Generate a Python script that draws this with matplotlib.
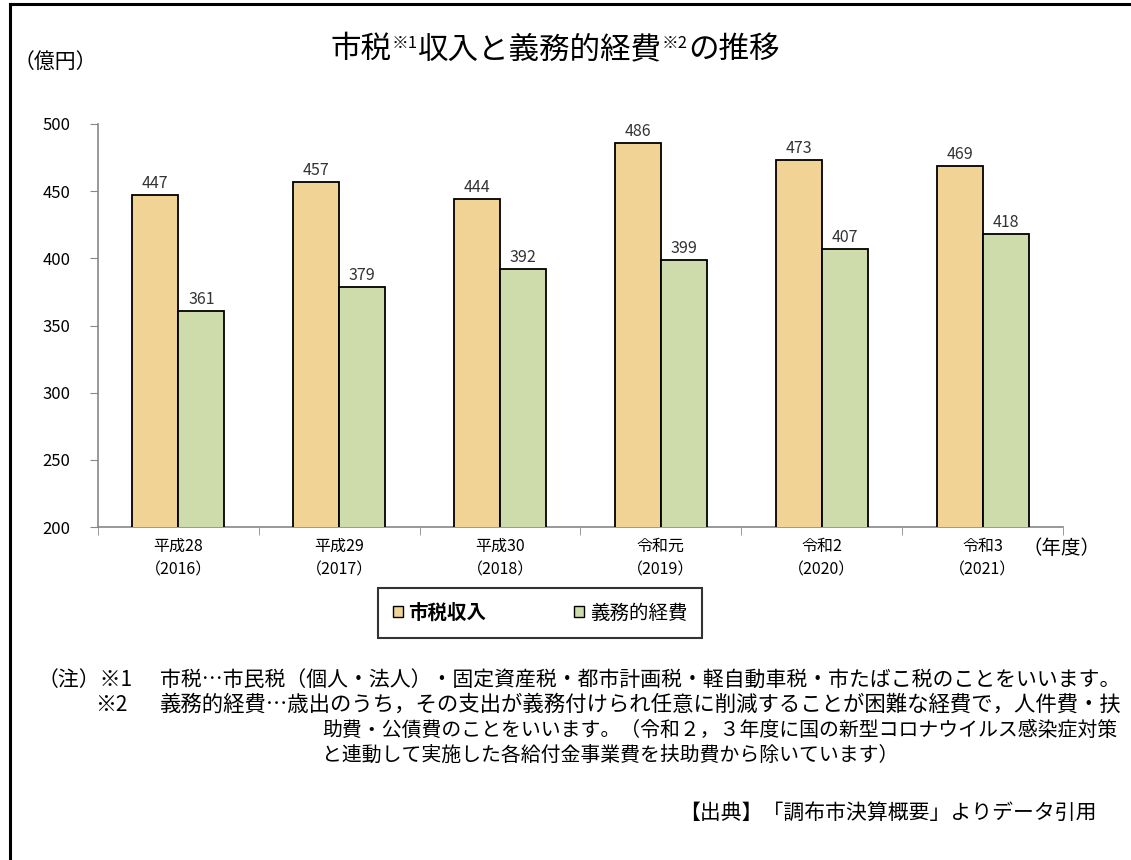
import matplotlib
matplotlib.use('Agg')
import matplotlib.pyplot as plt
from matplotlib.lines import Line2D
from matplotlib.patches import Patch
import numpy as np

plt.rcParams['font.family'] = ['Noto Sans CJK JP', 'DejaVu Sans']

# data
years = ['平成28\n（2016）', '平成29\n（2017）', '平成30\n（2018）',
         '令和元\n（2019）', '令和2\n（2020）', '令和3\n（2021）']
tax_income = [447, 457, 444, 486, 473, 469]
mandatory_cost = [361, 379, 392, 399, 407, 418]
series_names = ['市税収入', '義務的経費']
yticks = [200, 250, 300, 350, 400, 450, 500]

c_tax = '#F2D396'
c_cost = '#CDDCAA'

fig = plt.figure(figsize=(11.31, 8.6), dpi=100)
ax = fig.add_axes([98/1131, 1-527/860, (1063-98)/1131, (527-124)/860])

x = np.arange(len(years))
w = 0.286
b1 = ax.bar(x - w/2, tax_income, w, color=c_tax, edgecolor='black', linewidth=1.3, zorder=3)
b2 = ax.bar(x + w/2, mandatory_cost, w, color=c_cost, edgecolor='black', linewidth=1.3, zorder=3)
for bars in (b1, b2):
    ax.bar_label(bars, padding=2, fontsize=11.5, color='#333333')

ax.set_ylim(200, 500)
ax.set_xlim(-0.5, len(years) - 0.5)
ax.set_yticks(yticks)
ax.set_yticklabels([str(v) for v in yticks], fontsize=12)
ax.set_xticks(x)
ax.set_xticklabels(years, fontsize=11.5, linespacing=1.5)
ax.set_xticks(np.arange(-0.5, len(years)), minor=True)
ax.tick_params(axis='x', which='major', length=0, pad=8)
ax.tick_params(axis='x', which='minor', length=6, color='#888888')
ax.tick_params(axis='y', length=6, color='#888888', pad=14)
for s in ('top', 'right'):
    ax.spines[s].set_visible(False)
for s in ('left', 'bottom'):
    ax.spines[s].set_color('#888888')
    ax.spines[s].set_linewidth(1.2)

# frame lines on left and top
fig.add_artist(Line2D([10/1131, 10/1131], [0, 1-4/860], transform=fig.transFigure, color='black', lw=2.2))
fig.add_artist(Line2D([10/1131, 1], [1-4/860, 1-4/860], transform=fig.transFigure, color='black', lw=2.2))

renderer = fig.canvas.get_renderer()

# title with superscripts, assembled piece by piece
pieces = [('市税', 22, 0), ('※1', 12, 10), ('収入と義務的経費', 22, 0), ('※2', 12, 10), ('の推移', 22, 0)]
texts = []
for s, fs, dy in pieces:
    t = fig.text(0, 0, s, fontsize=fs, va='baseline', ha='left')
    texts.append((t, dy))
widths = [t.get_window_extent(renderer).width for t, _ in texts]
xpos = 555 - sum(widths)/2
base = 860 - 58
for (t, dy), wd in zip(texts, widths):
    t.set_position((xpos/1131, (base + dy)/860))
    xpos += wd

fig.text(14/1131, 1-62/860, '（億円）', fontsize=15, va='center', ha='left')
fig.text(1100/1131, 1-548/860, '（年度）', fontsize=14, va='center', ha='right')

leg = fig.legend([Patch(facecolor=c_tax, edgecolor='black'), Patch(facecolor=c_cost, edgecolor='black')],
                 series_names, loc='center', bbox_to_anchor=(540/1131, 1-613/860), ncol=2,
                 fontsize=14, handlelength=0.5, handleheight=0.5, handletextpad=0.3,
                 columnspacing=4.5, fancybox=False, edgecolor='black', borderpad=0.75,
                 borderaxespad=0)
leg.get_frame().set_linewidth(1.5)
leg.get_texts()[0].set_fontweight('bold')


def note(xp, yp, s, fs, ha='left'):
    fig.text(xp/1131, 1-yp/860, s, fontsize=fs, va='center', ha=ha)


note(38, 680, '（注）※1', 15)
note(160, 680, '市税…市民税（個人・法人）・固定資産税・都市計画税・軽自動車税・市たばこ税のことをいいます。', 15)
note(95, 705, '※2', 15)
note(160, 705, '義務的経費…歳出のうち，その支出が義務付けられ任意に削減することが困難な経費で，人件費・扶', 15.4)
note(322, 730, '助費・公債費のことをいいます。（令和２，３年度に国の新型コロナウイルス感染症対策', 14.3)
note(322, 755, 'と連動して実施した各給付金事業費を扶助費から除いています）', 14.3)
note(1097, 813, '【出典】「調布市決算概要」よりデータ引用', 15, ha='right')

fig.savefig('out.png', dpi=100)
